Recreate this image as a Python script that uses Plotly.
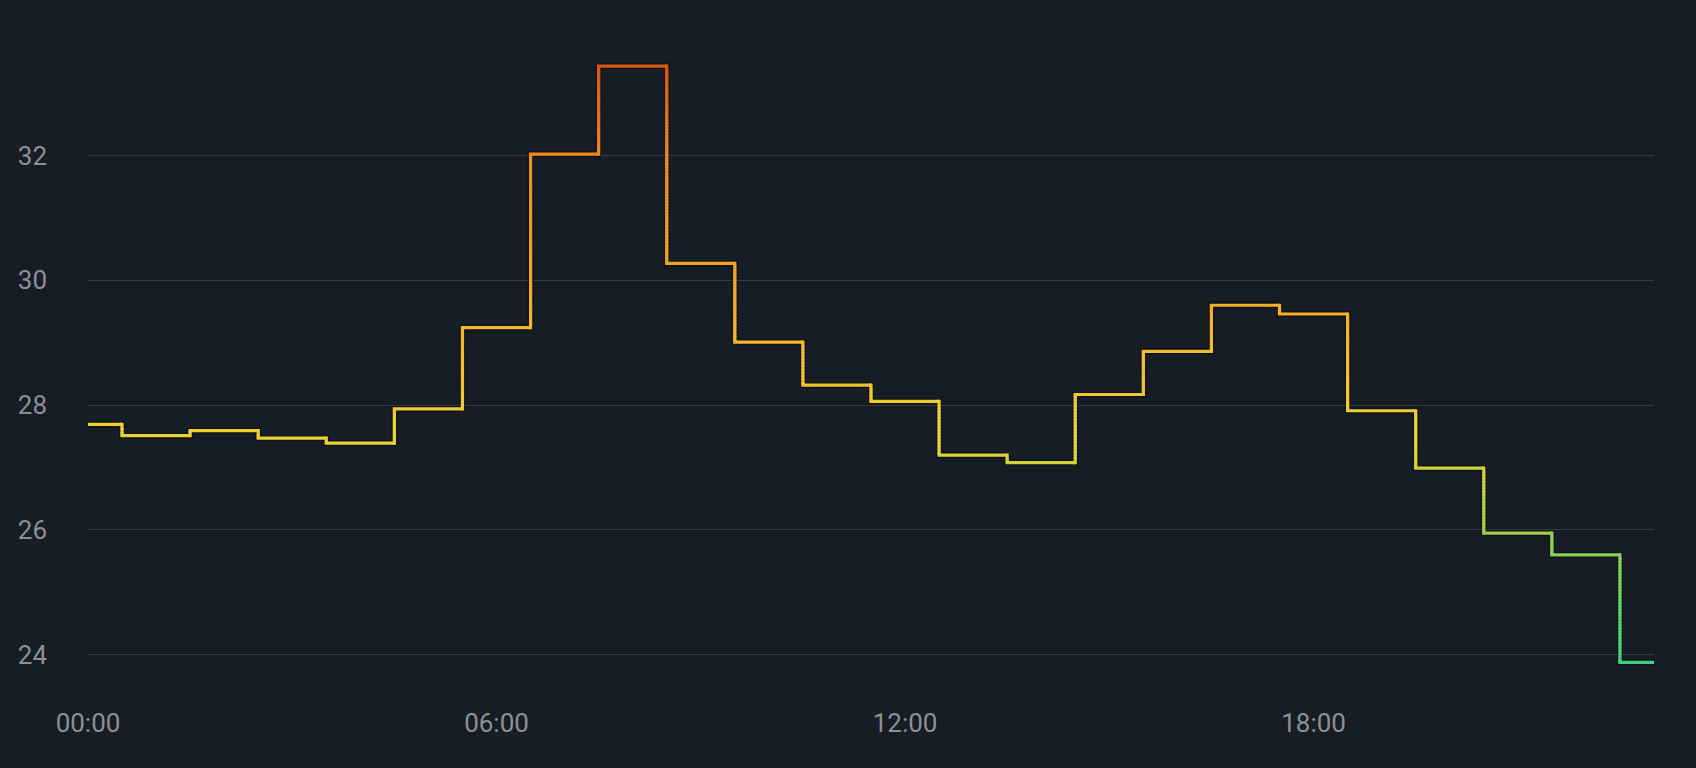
import plotly.graph_objects as go

# hourly readings (hour of day -> value)
hours = [0, 1, 2, 3, 4, 5, 6, 7, 8, 9, 10, 11, 12, 13, 14, 15, 16, 17, 18, 19, 20, 21, 22, 23]
values = [27.69, 27.51, 27.59, 27.47, 27.39, 27.94, 29.24, 32.02, 33.43, 30.27, 29.01, 28.32,
          28.06, 27.20, 27.08, 28.17, 28.86, 29.60, 29.46, 27.91, 26.99, 25.95, 25.60, 23.88]

tick_vals = [0, 6, 12, 18]
tick_text = ["00:00", "06:00", "12:00", "18:00"]
y_ticks = [24, 26, 28, 30, 32]

# value -> colour stops for the line gradient
stop_vals = [23.9, 25.0, 26.0, 27.0, 27.6, 28.4, 29.3, 30.3, 32.0, 33.5]
stop_cols = ["#3dd180", "#6fd064", "#9ccf4a", "#d2d23c", "#ecd334",
             "#f3c330", "#f5b42b", "#f3a222", "#ef8a1b", "#d9560c"]

BG = "#171d24"
GRID = "#343b43"
TXT = "#8a9098"
FONT = "Roboto"


def hex_rgb(h):
    return tuple(int(h[i:i + 2], 16) for i in (1, 3, 5))


def color_for(v):
    if v <= stop_vals[0]:
        return stop_cols[0]
    if v >= stop_vals[-1]:
        return stop_cols[-1]
    for i in range(1, len(stop_vals)):
        if v <= stop_vals[i]:
            t = (v - stop_vals[i - 1]) / (stop_vals[i] - stop_vals[i - 1])
            a, b = hex_rgb(stop_cols[i - 1]), hex_rgb(stop_cols[i])
            c = [round(a[k] + (b[k] - a[k]) * t) for k in range(3)]
            return "#%02x%02x%02x" % tuple(c)


# build the hvh step path, split vertical runs into small pieces for a gradient
path = [(hours[0], values[0])]
for i in range(1, len(hours)):
    mid = (hours[i - 1] + hours[i]) / 2
    path.append((mid, values[i - 1]))
    y0, y1 = values[i - 1], values[i]
    n = max(1, int(abs(y1 - y0) / 0.05))
    for k in range(1, n + 1):
        path.append((mid, y0 + (y1 - y0) * k / n))
path.append((hours[-1], values[-1]))

groups = {}
for k in range(len(path) - 1):
    (xa, ya), (xb, yb) = path[k], path[k + 1]
    if xa == xb and k + 2 < len(path) and path[k + 2][0] == xb:
        # overlap vertical pieces a touch so no seams show between them
        yb_draw = yb + (0.025 if yb > ya else -0.025)
    else:
        yb_draw = yb
    pts = [(xa, ya), (xb, yb_draw)]
    if k > 0:
        xp, yp = path[k - 1]
        if (xp == xa) != (xa == xb):  # direction change: overlap a little for a clean corner
            if xp == xa:
                pts.insert(0, (xa, ya + (0.03 if yp > ya else -0.03)))
            else:
                pts.insert(0, (xa + (0.03 if xp > xa else -0.03), ya))
    col = color_for((ya + yb) / 2)
    g = groups.setdefault(col, ([], []))
    g[0].extend([p[0] for p in pts] + [None])
    g[1].extend([p[1] for p in pts] + [None])

fig = go.Figure()

# soft dark edge under the line
fig.add_trace(go.Scatter(
    x=hours, y=values, mode="lines", line_shape="hvh",
    line=dict(color="rgba(0,0,0,0.35)", width=6),
    hoverinfo="skip", showlegend=False,
))

for col, (xs, ys) in groups.items():
    fig.add_trace(go.Scatter(
        x=xs, y=ys, mode="lines", line=dict(color=col, width=3.2),
        hoverinfo="skip", showlegend=False, connectgaps=False,
    ))

fig.update_layout(
    width=1696,
    height=768,
    plot_bgcolor=BG,
    paper_bgcolor=BG,
    margin=dict(l=88, r=42, t=20, b=82, pad=0),
    font=dict(family=FONT, size=26, color=TXT),
    xaxis=dict(
        range=[0, 23],
        tickvals=tick_vals,
        ticktext=tick_text,
        showgrid=False,
        zeroline=False,
        showline=False,
        ticks="",
        ticklabelstandoff=19,
        tickfont=dict(family=FONT, size=26, color=TXT),
    ),
    yaxis=dict(
        range=[23.5, 34.17],
        tickvals=y_ticks,
        showgrid=True,
        gridcolor=GRID,
        gridwidth=1,
        zeroline=False,
        showline=False,
        ticks="",
        ticklabelstandoff=40,
        tickfont=dict(family=FONT, size=26, color=TXT),
    ),
)

fig.write_html(
    "out.html",
    config={"displayModeBar": False},
    post_script="document.body.style.margin='0';",
)
